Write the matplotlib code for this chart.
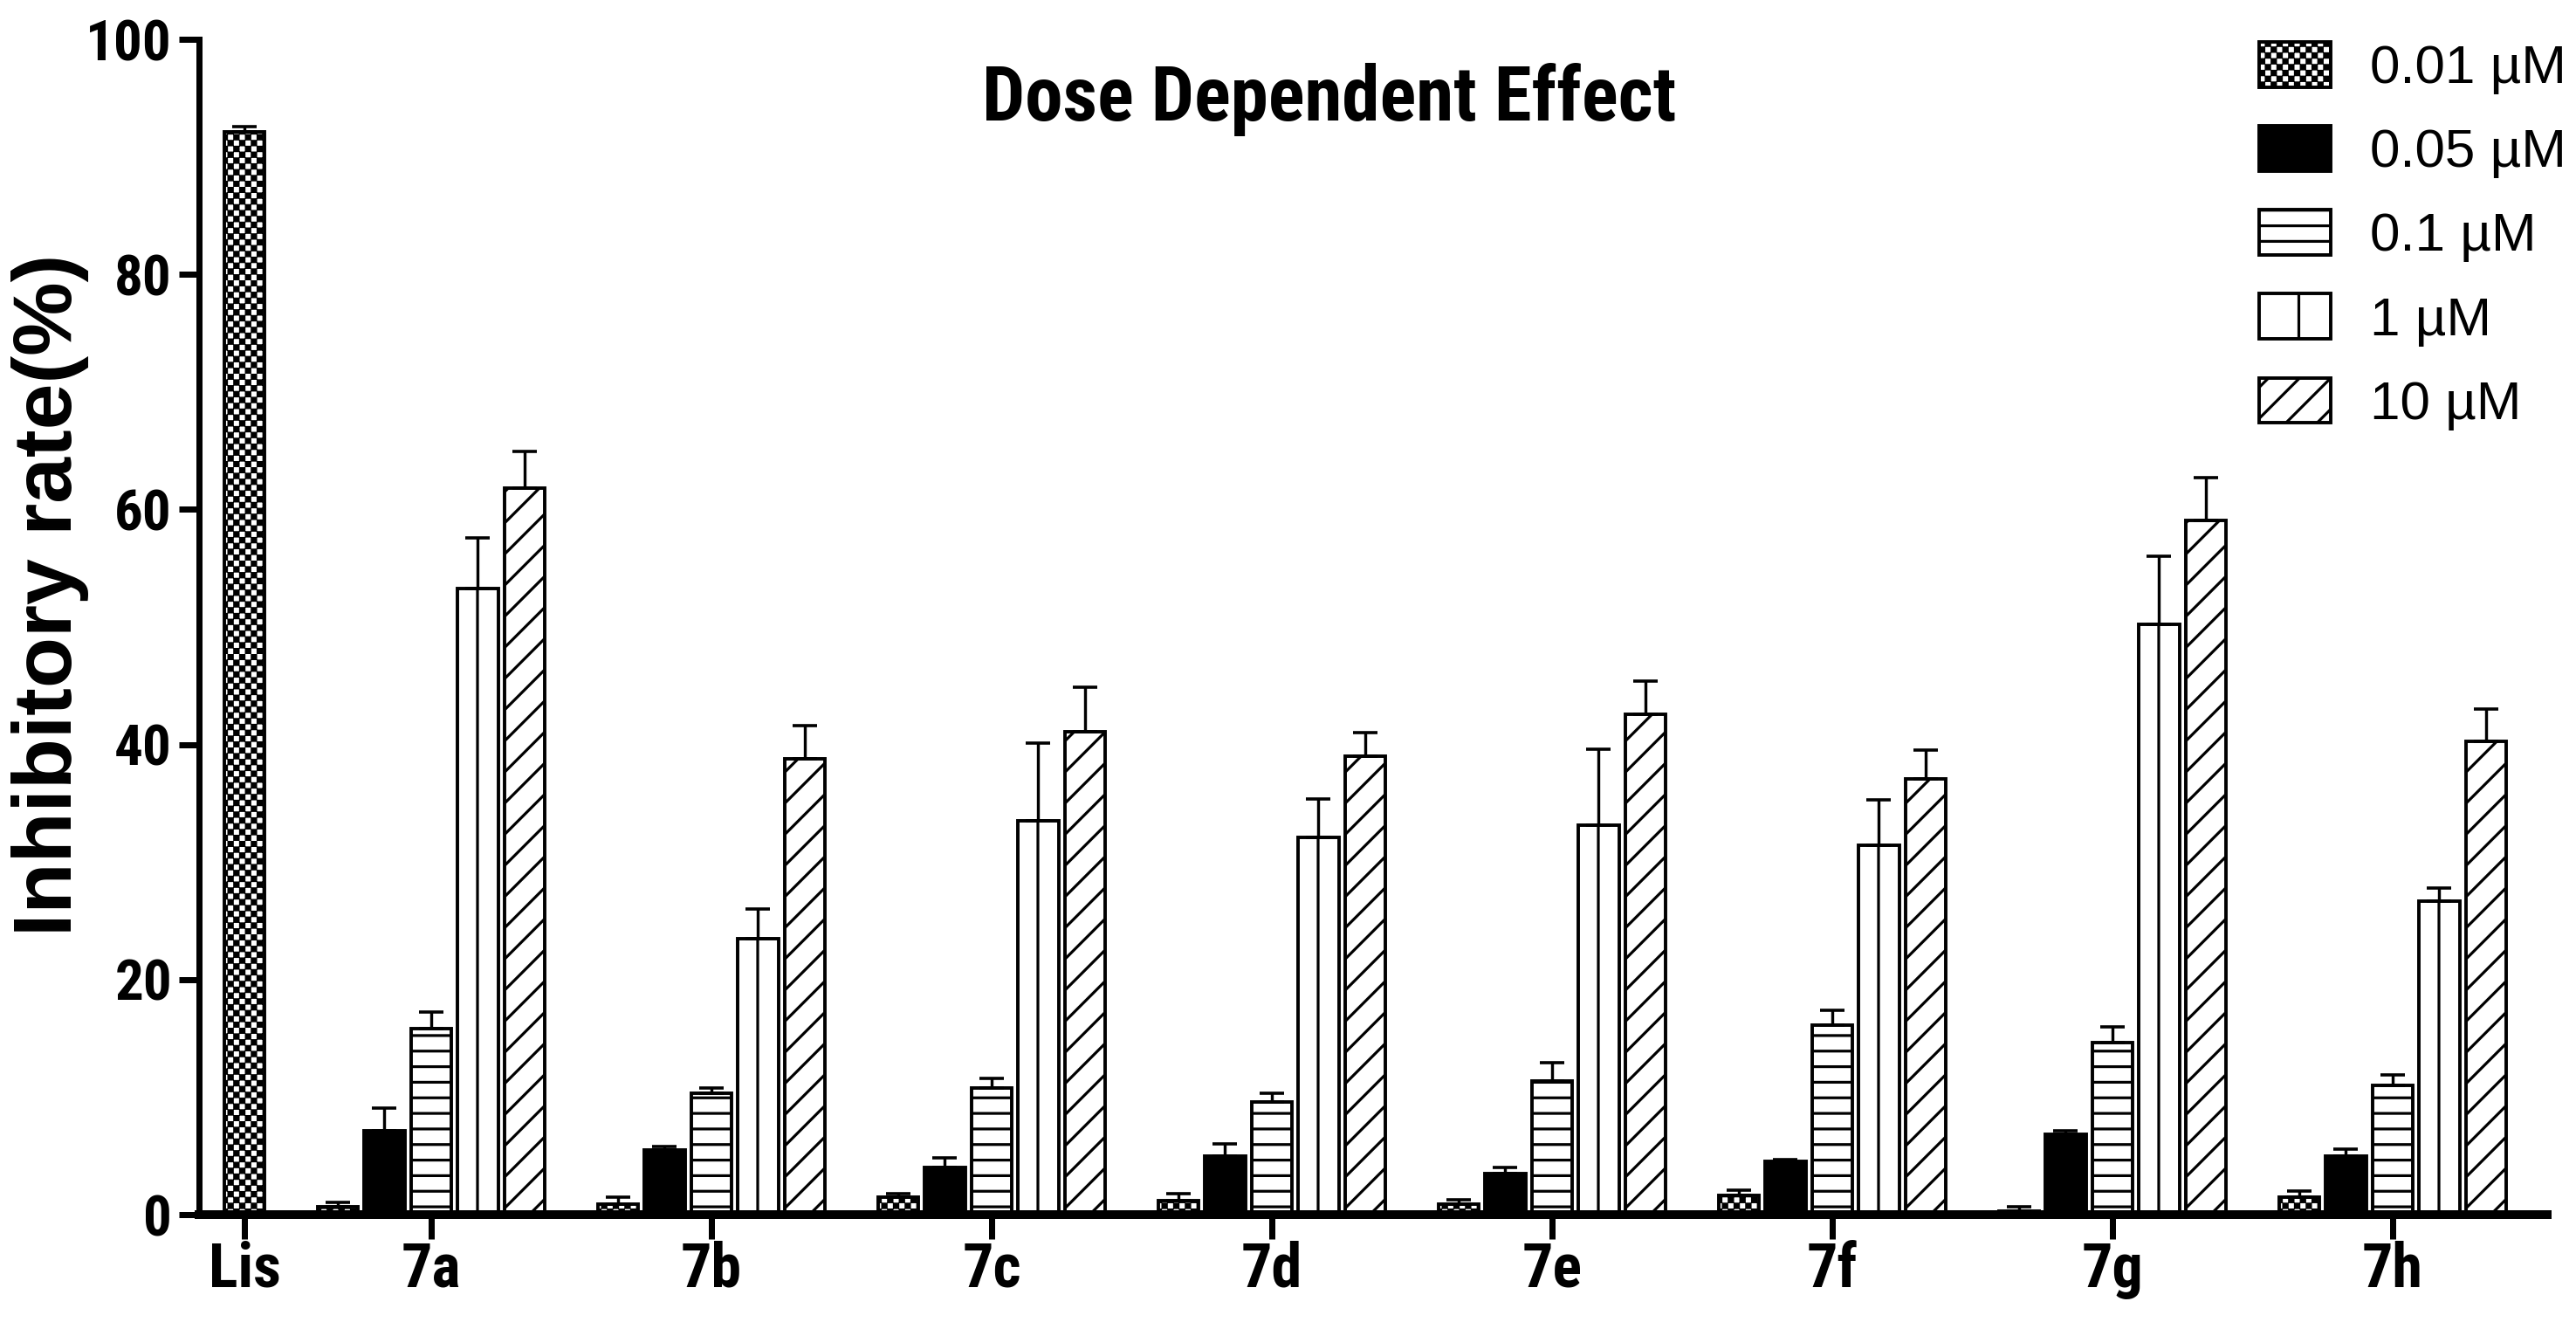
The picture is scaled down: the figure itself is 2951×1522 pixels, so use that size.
import os
import numpy as np
import matplotlib
matplotlib.use('Agg')
import matplotlib.pyplot as plt
import matplotlib.hatch as mhatch
from matplotlib.path import Path
from matplotlib import font_manager as fm

# ---------------- data ----------------
compounds = ['7a', '7b', '7c', '7d', '7e', '7f', '7g', '7h']
ref_label = 'Lis'
ref_value = [92.1]
ref_error = [0.5]

dose_labels = ['0.01 µM', '0.05 µM', '0.1 µM', '1 µM', '10 µM']
dose_001 = [0.7, 0.9, 1.5, 1.2, 0.9, 1.6, 0.3, 1.5]
err_001 = [0.35, 0.6, 0.3, 0.6, 0.4, 0.5, 0.4, 0.5]
dose_005 = [7.1, 5.5, 4.0, 5.0, 3.5, 4.5, 6.8, 5.0]
err_005 = [2.0, 0.3, 0.8, 1.0, 0.5, 0.2, 0.3, 0.6]
dose_01 = [15.8, 10.3, 10.8, 9.6, 11.4, 16.1, 14.6, 11.0]
err_01 = [1.4, 0.5, 0.8, 0.75, 1.5, 1.3, 1.4, 0.9]
dose_1 = [53.3, 23.5, 33.5, 32.1, 33.1, 31.4, 50.2, 26.7]
err_1 = [4.3, 2.5, 6.6, 3.3, 6.5, 3.9, 5.8, 1.1]
dose_10 = [61.8, 38.8, 41.1, 39.0, 42.6, 37.1, 59.1, 40.3]
err_10 = [3.1, 2.8, 3.8, 2.0, 2.8, 2.4, 3.6, 2.7]

y_ticks = [0, 20, 40, 60, 80, 100]

# ---------------- figure constants ----------------
DPI = 107
W, H = 2951, 1522


def pt(px_value):
    """pixels -> points at the figure dpi"""
    return px_value * 72.0 / DPI


# ---------------- fonts ----------------
FILES = [f.fname for f in fm.fontManager.ttflist]


def find_file(patterns, exclude=('italic', 'oblique')):
    for pat in patterns:
        for fn in FILES:
            b = os.path.basename(fn).lower().replace(' ', '').replace('_', '').replace('-', '')
            if pat in b and not any(e in b for e in exclude):
                return fn
    return None


narrow_bold = find_file(['liberationsansnarrowbold', 'arialnarrowbold', 'arialnbd',
                         'robotocondensedbold', 'opensanscondensedbold',
                         'notosanscondensedbold'])
sans_bold = find_file(['liberationsansbold', 'arimobold', 'arialbd'],
                      exclude=('italic', 'oblique', 'narrow'))
sans_reg = find_file(['liberationsansregular', 'arimoregular', 'arial.ttf'],
                     exclude=('italic', 'oblique', 'narrow', 'bold'))
if sans_bold is None:
    sans_bold = fm.findfont(fm.FontProperties(family='DejaVu Sans', weight='bold'))
if sans_reg is None:
    sans_reg = fm.findfont(fm.FontProperties(family='DejaVu Sans'))

if narrow_bold is not None:
    cond_file, px_title, px_ytick, px_xtick = narrow_bold, 87, 65, 70
else:
    cond_file, px_title, px_ytick, px_xtick = sans_bold, 78, 58, 61


def fp(path, size_px):
    return fm.FontProperties(fname=path, size=pt(size_px))


# ---------------- custom hatches ----------------
HATCH_LW_PX = 3.2
plt.rcParams['hatch.linewidth'] = pt(HATCH_LW_PX)
VLINE_PHASE = [0.0]


class CheckerHatch(mhatch.HatchPatternBase):
    """Checkerboard pattern, triggered by '.'"""
    def __init__(self, hatch, density):
        self.n = 16 if '.' in hatch else 0
        self.num_vertices = (self.n * self.n // 2) * 5

    def set_vertices_and_codes(self, vertices, codes):
        n = self.n
        s = 1.0 / n
        half = max((s - 0.8 * HATCH_LW_PX / int(DPI)) / 2.0, s * 0.15)
        k = 0
        for i in range(n):
            for j in range(n):
                if (i + j) % 2 == 0:
                    cx, cy = (i + 0.5) * s, (j + 0.5) * s
                    vertices[k:k + 5] = [(cx - half, cy - half), (cx + half, cy - half),
                                         (cx + half, cy + half), (cx - half, cy + half),
                                         (cx - half, cy - half)]
                    codes[k:k + 5] = [Path.MOVETO, Path.LINETO, Path.LINETO,
                                      Path.LINETO, Path.CLOSEPOLY]
                    k += 5


class SparseVerticalHatch(mhatch.HatchPatternBase):
    """Vertical lines, two per hatch tile, phase set from the bar layout."""
    def __init__(self, hatch, density):
        self.base = hatch.count('|') * 2
        self.num_vertices = self.base * 3 * 2

    def set_vertices_and_codes(self, vertices, codes):
        xs = (VLINE_PHASE[0] + np.arange(self.base) / self.base) % 1.0
        xs = np.concatenate([xs - 1.0, xs, xs + 1.0])
        vertices[0::2, 0] = xs
        vertices[0::2, 1] = 0.0
        vertices[1::2, 0] = xs
        vertices[1::2, 1] = 1.0
        codes[0::2] = Path.MOVETO
        codes[1::2] = Path.LINETO


mhatch._hatch_types = [
    CheckerHatch if t is mhatch.SmallFilledCircles
    else SparseVerticalHatch if t is mhatch.VerticalHatch
    else t
    for t in mhatch._hatch_types
]

# ---------------- figure ----------------
fig = plt.figure(figsize=(W / DPI, H / DPI), dpi=DPI)
fig.patch.set_facecolor('white')

ax_left, ax_right = 228 / W, 2918 / W
ax_bottom, ax_top = 1 - 1391 / H, 1 - 45 / H
ax = fig.add_axes([ax_left, ax_bottom, ax_right - ax_left, ax_top - ax_bottom])

series = [dose_001, dose_005, dose_01, dose_1, dose_10]
errors = [err_001, err_005, err_01, err_1, err_10]
hatches = ['.', None, '-', '|', '/']
faces = ['white', 'black', 'white', 'white', 'white']

group_x = 4 + 6 * np.arange(len(compounds))
offsets = np.arange(len(series)) - 2
width = 0.87
bar_lw = pt(3.9)
err_kw = dict(fmt='none', ecolor='black', elinewidth=pt(3.4), capsize=pt(13.5),
              capthick=pt(3.6), zorder=3)

ax.bar([0], ref_value, width, color='white', edgecolor='black', hatch='.',
       linewidth=bar_lw, zorder=2)
ax.errorbar([0], ref_value, yerr=[[0], ref_error], **err_kw)

handles = []
for k in range(len(series)):
    xs = group_x + offsets[k]
    b = ax.bar(xs, series[k], width, color=faces[k], edgecolor='black',
               hatch=hatches[k], linewidth=bar_lw, label=dose_labels[k], zorder=2)
    handles.append(b)
    ax.errorbar(xs, series[k], yerr=[np.zeros(len(xs)), errors[k]], **err_kw)

ax.set_xlim(-0.972, 49.31)
ax.set_ylim(0, 100)
ax.set_yticks(y_ticks)
ax.set_xticks([0] + list(group_x))
ax.set_xticklabels([ref_label] + compounds)

for s in ['top', 'right']:
    ax.spines[s].set_visible(False)
ax.spines['bottom'].set_linewidth(pt(10))
ax.spines['left'].set_linewidth(pt(7))
ax.spines['bottom'].set_zorder(4)
ax.spines['left'].set_zorder(4)

ax.tick_params(axis='y', length=pt(23), width=pt(7), pad=pt(8))
ax.tick_params(axis='x', length=pt(28), width=pt(7), pad=pt(2))
for lab in ax.get_yticklabels():
    lab.set_fontproperties(fp(cond_file, px_ytick))
for lab in ax.get_xticklabels():
    lab.set_fontproperties(fp(cond_file, px_xtick))

ax.set_ylabel('Inhibitory rate(%)', fontproperties=fp(sans_bold, 95))
ax.yaxis.set_label_coords(-0.047, 0.527)

fig.text(0.516, 1 - 138 / H, 'Dose Dependent Effect', ha='center', va='baseline',
         fontproperties=fp(cond_file, px_title))

leg_px = 62
ax.legend(handles, dose_labels, loc='upper left',
          bbox_to_anchor=(2588 / W, 1 - 48 / H), bbox_transform=fig.transFigure,
          frameon=False, prop=fp(sans_reg, leg_px),
          handlelength=82 / leg_px, handleheight=56 / leg_px,
          handletextpad=45 / leg_px, labelspacing=0.58,
          borderpad=0, borderaxespad=0)

# align the vertical-line pattern of the 1 µM bars with the bar centres
tile = int(DPI)
x_first = ax.transData.transform((group_x[0] + offsets[3], 0.0))[0]
VLINE_PHASE[0] = (np.floor(x_first) % tile) / tile

fig.savefig('out.png', dpi=DPI, facecolor='white')
